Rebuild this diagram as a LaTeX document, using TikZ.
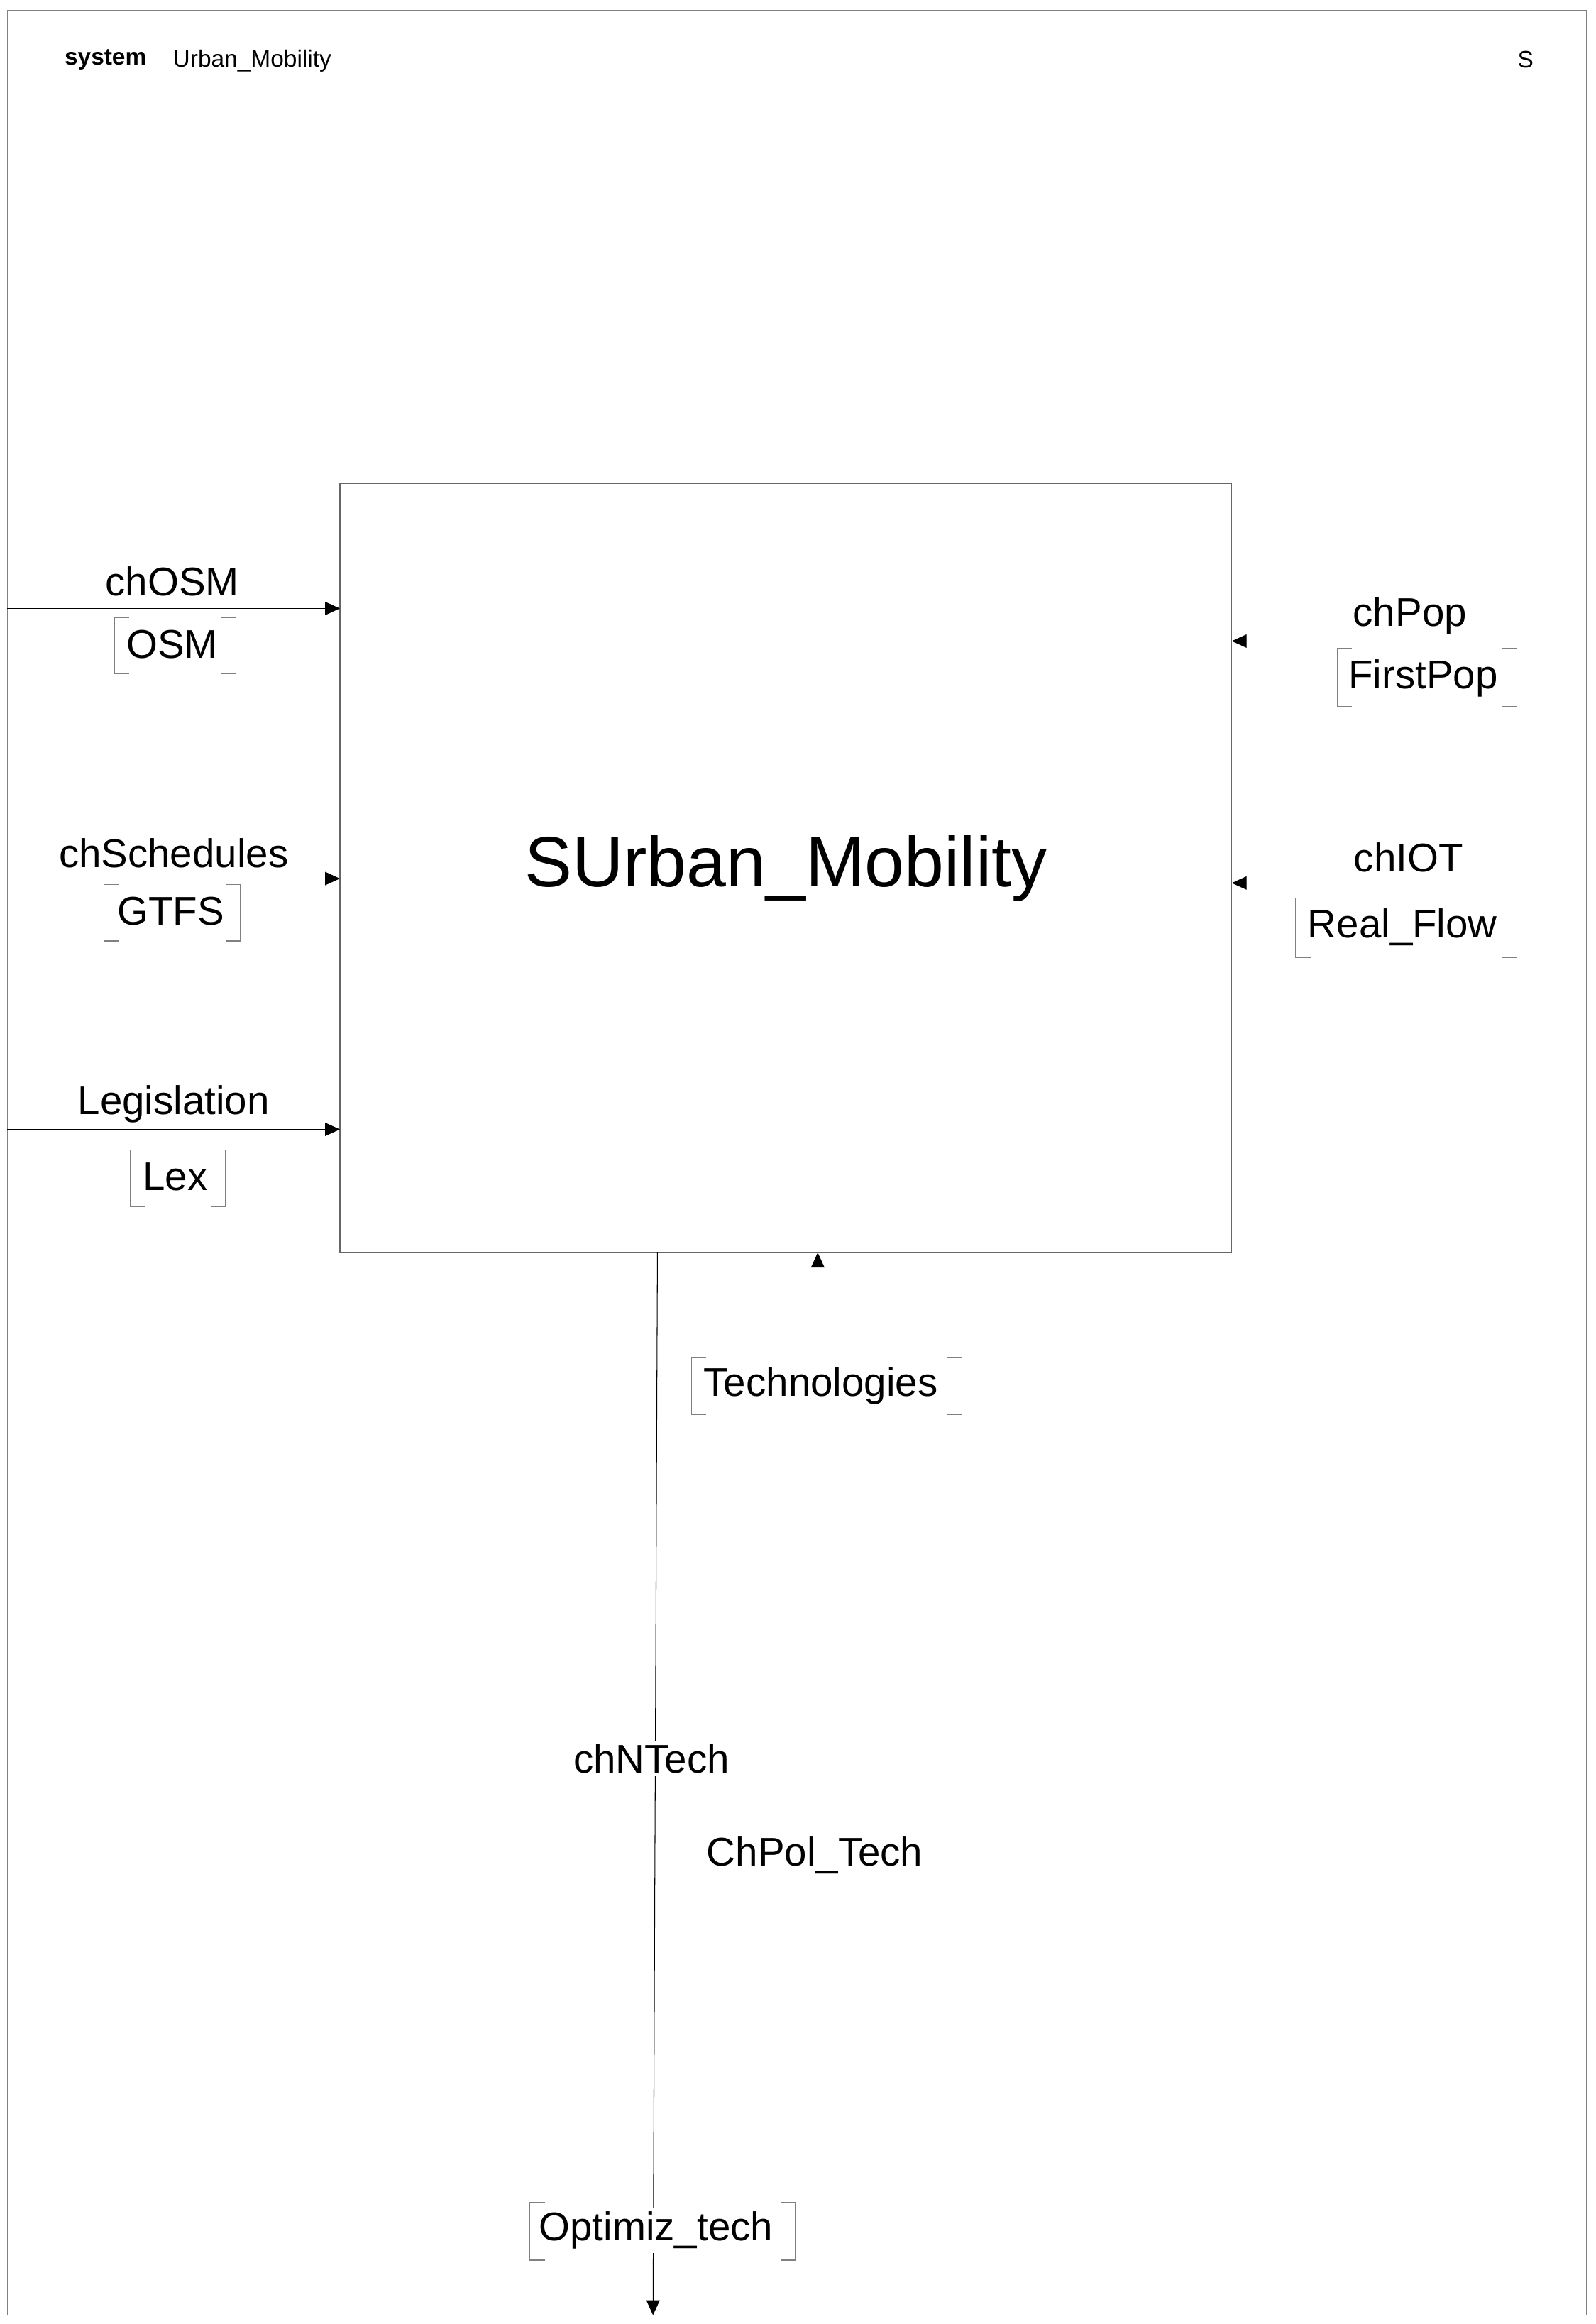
\documentclass[tikz,border=0pt]{standalone}
\usepackage{fontspec}
\setmainfont{Liberation Sans}
\usetikzlibrary{arrows.meta}
\begin{document}
\begin{tikzpicture}[x=1pt,y=-1pt,
  lbl/.style={fill=white,inner sep=2pt,font=\fontsize{27}{32}\selectfont},
  sig/.style={draw=none,inner sep=0pt,font=\fontsize{27}{32}\selectfont},
  conn/.style={line width=0.5pt,-{Triangle[length=10pt,width=9pt]}},
  brk/.style={draw=gray,line width=0.6pt}]
\useasboundingbox (0,0) rectangle (1075,1566);
\draw[line width=0.5pt,gray] (5,7) rectangle (1069,1560);
\node[anchor=west,font=\fontsize{16}{18}\selectfont\bfseries] (t1) at (40,40) {system};
\node[anchor=west,font=\fontsize{16}{18}\selectfont] (t2) at (113,41) {Urban\_Mobility};
\node[font=\fontsize{16}{18}\selectfont] (t3) at (1028,40) {S};
\node[draw=gray!80!black,line width=0.6pt,minimum width=601pt,minimum height=518pt,font=\fontsize{48}{56}\selectfont] (B) at (529.5,585) {SUrban\_Mobility};
\coordinate (l1) at (5,410); \coordinate (l1e) at (229,410);
\coordinate (l2) at (5,592); \coordinate (l2e) at (229,592);
\coordinate (l3) at (5,761); \coordinate (l3e) at (229,761);
\coordinate (r1) at (1069,432); \coordinate (r1e) at (830,432);
\coordinate (r2) at (1069,595); \coordinate (r2e) at (830,595);
\coordinate (b1) at (443,844); \coordinate (b1e) at (440,1560);
\coordinate (b2) at (551,1560); \coordinate (b2e) at (551,844);
\draw[conn] (l1) -- (l1e);
\draw[conn] (l2) -- (l2e);
\draw[conn] (l3) -- (l3e);
\draw[conn] (r1) -- (r1e);
\draw[conn] (r2) -- (r2e);
\draw[conn] (b1) -- (b1e);
\draw[conn] (b2) -- (b2e);
\node[lbl] (n1) at (116,392) {chOSM};
\node[lbl] (n2) at (117,575) {chSchedules};
\node[lbl] (n3) at (117,744) {Legislation};
\node[lbl] (n4) at (950,415) {chPop};
\node[lbl] (n5) at (949,578) {chIOT};
\node[lbl] (n6) at (439,1185) {chNTech};
\node[lbl] (n7) at (549,1250) {ChPol\_Tech};
\newcommand{\sigbox}[6]{%
  \node[sig] (#1) at (#2) {#3};
  \draw[brk] (#4+10,#5) -- (#4,#5) -- (#4,#6) -- (#4+10,#6);
}
\newcommand{\rbrk}[3]{\draw[brk] (#1-10,#2) -- (#1,#2) -- (#1,#3) -- (#1-10,#3);}
\sigbox{s1}{116,434}{OSM}{77}{416}{454}\rbrk{159}{416}{454}
\sigbox{s2}{115,614}{GTFS}{70}{596}{634}\rbrk{162}{596}{634}
\sigbox{s3}{118,793}{Lex}{88}{775}{813}\rbrk{152}{775}{813}
\sigbox{s4}{959,457}{FirstPop}{901}{437}{476}\rbrk{1022}{437}{476}
\sigbox{s5}{945,625}{Real\_Flow}{873}{605}{645}\rbrk{1022}{605}{645}
\node[fill=white,minimum width=160pt,minimum height=30pt] at (553,934) {};
\sigbox{s6}{553,934}{Technologies}{466}{915}{953}\rbrk{648}{915}{953}
\node[fill=white,minimum width=160pt,minimum height=30pt] at (442,1503) {};
\sigbox{s7}{442,1503}{Optimiz\_tech}{357}{1484}{1523}\rbrk{536}{1484}{1523}
\end{tikzpicture}
\end{document}
